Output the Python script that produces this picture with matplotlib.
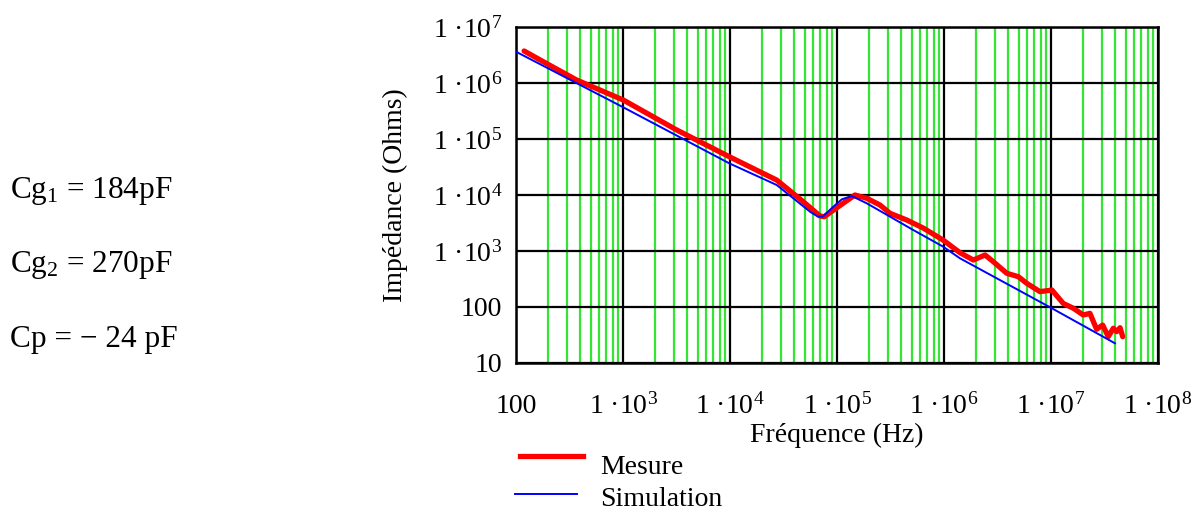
import matplotlib
matplotlib.use("Agg")
import matplotlib.pyplot as plt
from matplotlib.lines import Line2D
from matplotlib.ticker import FixedLocator, LogLocator, NullFormatter

plt.rcParams['font.family'] = ['Liberation Serif', 'DejaVu Serif']
plt.rcParams['mathtext.fontset'] = 'custom'
plt.rcParams['mathtext.rm'] = 'Liberation Serif'
plt.rcParams['mathtext.it'] = 'Liberation Serif:italic'
plt.rcParams['mathtext.bf'] = 'Liberation Serif:bold'

# ---- data ----
mesure_f = [119, 180, 369, 1006, 3177, 9840, 2.73e4, 4.84e4, 6.93e4, 7.6e4,
            1.03e5, 1.47e5, 1.90e5, 2.52e5, 3.13e5, 4.48e5, 6.37e5, 9.8e5,
            1.41e6, 1.88e6, 2.42e6, 2.89e6, 3.86e6, 4.95e6, 5.93e6, 7.89e6,
            1.02e7, 1.30e7, 1.62e7, 2.00e7, 2.31e7, 2.67e7, 3.04e7, 3.43e7,
            3.82e7, 4.11e7, 4.42e7, 4.68e7]
mesure_z = [3.73e6, 2.40e6, 1.13e6, 4.97e5, 1.45e5, 4.83e4, 1.85e4, 7.59e3,
            4.22e3, 4.1e3, 6.19e3, 1.0e4, 8.73e3, 6.63e3, 4.71e3, 3.58e3,
            2.58e3, 1.57e3, 933, 690, 849, 644, 400, 348, 265, 188, 201, 116,
            94.8, 72, 77, 40, 47.7, 29.5, 41.7, 36.3, 42.7, 29.5]

simul_f = [100, 1006, 9840, 2.73e4, 5.6e4, 6.64e4, 7.4e4, 9.25e4, 1.11e5,
           1.37e5, 1.9e5, 5.16e5, 9.86e5, 1.41e6, 1.02e7, 3.96e7]
simul_z = [3.62e6, 3.68e5, 3.68e4, 1.51e4, 5.03e3, 4.1e3, 4.15e3, 6.19e3,
           8.37e3, 9.6e3, 7.1e3, 2.37e3, 1.19e3, 740, 94.8, 22.5]

x_ticks = [1e2, 1e3, 1e4, 1e5, 1e6, 1e7, 1e8]
x_tick_labels = ["100", "1 ·10$^{3}$", "1 ·10$^{4}$", "1 ·10$^{5}$",
                 "1 ·10$^{6}$", "1 ·10$^{7}$", "1 ·10$^{8}$"]
y_ticks = [10, 100, 1e3, 1e4, 1e5, 1e6, 1e7]
y_tick_labels = ["10", "100", "1 ·10$^{3}$", "1 ·10$^{4}$", "1 ·10$^{5}$",
                 "1 ·10$^{6}$", "1 ·10$^{7}$"]

params = ["Cg$_{1}$ = 184pF", "Cg$_{2}$ = 270pF", "Cp = \u2212 24 pF"]
legend_labels = ["Mesure", "Simulation"]

# ---- figure ----
W, H = 1193, 515
fig = plt.figure(figsize=(W / 100, H / 100), dpi=100)
ax = fig.add_axes([516 / W, 1 - 363 / H, (1158 - 516) / W, (363 - 27) / H])
ax.set_xscale('log')
ax.set_yscale('log')
ax.set_xlim(1e2, 1e8)
ax.set_ylim(10, 1e7)

ax.xaxis.set_major_locator(FixedLocator(x_ticks))
ax.set_xticklabels(x_tick_labels)
ax.yaxis.set_major_locator(FixedLocator(y_ticks))
ax.set_yticklabels(y_tick_labels)
ax.xaxis.set_minor_locator(LogLocator(base=10, subs=range(2, 10), numticks=50))
ax.xaxis.set_minor_formatter(NullFormatter())
ax.yaxis.set_minor_locator(FixedLocator([]))

ax.grid(True, which='minor', axis='x', color='#33e633', lw=1.6, zorder=0)
ax.grid(True, which='major', axis='both', color='black', lw=1.6, zorder=1)
ax.set_axisbelow(True)
ax.tick_params(which='both', length=0, labelsize=20)
ax.tick_params(axis='x', pad=22)
ax.tick_params(axis='y', pad=10)
for s in ax.spines.values():
    s.set_linewidth(1.8)

ax.plot(mesure_f, mesure_z, color='#ff0000', lw=3.8, zorder=3,
        solid_joinstyle='round', solid_capstyle='round')
ax.plot(simul_f, simul_z, color='#0000ff', lw=1.4, zorder=4)

ax.set_xlabel("Fréquence (Hz)", fontsize=20, labelpad=2)
ax.set_ylabel("Impédance (Ohms)", fontsize=20, labelpad=18)

# parameter text on the left
for txt, yb in zip(params, [198, 272, 347]):
    fig.text(10 / W, 1 - yb / H, txt, fontsize=22.5, ha='left', va='baseline')

# legend drawn below
fig.add_artist(Line2D([520 / W, 583 / W], [1 - 456 / H, 1 - 456 / H],
                      color='#ff0000', lw=3.8))
fig.add_artist(Line2D([515 / W, 577 / W], [1 - 494 / H, 1 - 494 / H],
                      color='#0000ff', lw=1.4))
fig.text(600 / W, 1 - 474 / H, legend_labels[0], fontsize=20, va='baseline')
fig.text(600 / W, 1 - 506 / H, legend_labels[1], fontsize=20, va='baseline')

fig.savefig("out.png", dpi=100, facecolor='white')
